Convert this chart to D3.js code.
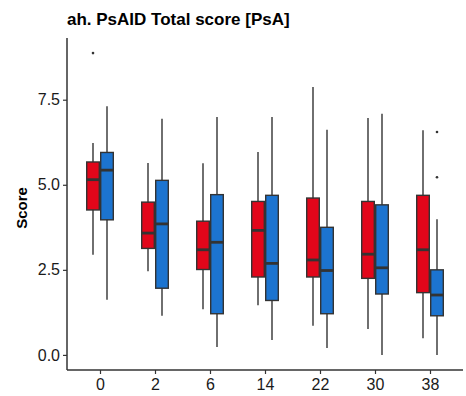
<!DOCTYPE html>
<html>
<head>
<meta charset="utf-8">
<script src="https://cdn.jsdelivr.net/npm/d3@7"></script>
<style>
  html, body { margin: 0; padding: 0; background: #ffffff; }
  svg { display: block; }
</style>
</head>
<body>
<div id="chart"></div>
<script>
// Weeks on the x axis
const weeks = ["0", "2", "6", "14", "22", "30", "38"];

// Five-number summaries (whisker low, Q1, median, Q3, whisker high) per week
const aLow  = [2.94, 2.46, 1.34, 1.46, 0.86, 0.76, 0.49];
const aQ1   = [4.26, 3.13, 2.51, 2.29, 2.29, 2.25, 1.83];
const aMed  = [5.15, 3.58, 3.09, 3.66, 2.79, 2.96, 3.09];
const aQ3   = [5.67, 4.49, 3.93, 4.51, 4.61, 4.51, 4.69];
const aHigh = [6.23, 5.64, 5.63, 5.96, 7.87, 6.96, 6.60];

const bLow  = [1.62, 1.15, 0.23, 0.44, 0.20, 0.00, 0.00];
const bQ1   = [3.97, 1.96, 1.21, 1.60, 1.21, 1.79, 1.15];
const bMed  = [5.43, 3.85, 3.31, 2.69, 2.48, 2.56, 1.76];
const bQ3   = [5.95, 5.13, 4.71, 4.69, 3.75, 4.41, 2.50];
const bHigh = [7.31, 6.94, 6.99, 6.99, 6.62, 7.09, 3.99];

// Outlying points: [week, value]
const aOutliers = [["0", 8.87]];
const bOutliers = [["38", 6.55], ["38", 5.22]];

const yTicks = [0, 2.5, 5, 7.5];

const width = 466, height = 396;
const margin = { top: 38, right: 3, bottom: 26, left: 67 };
const fillA = "#E2061A", fillB = "#1C74D0";
const ink = "#333333";

const svg = d3.select("#chart").append("svg")
  .attr("width", width).attr("height", height);

// Title
svg.append("text")
  .attr("x", margin.left).attr("y", 25)
  .attr("font-family", "Liberation Sans, Arial, sans-serif")
  .attr("font-weight", "bold").attr("font-size", 17)
  .attr("fill", "#000")
  .text("ah. PsAID Total score [PsA]");

// Scales
const allVals = aHigh.concat(bHigh, aLow, bLow, aOutliers.map(d => d[1]), bOutliers.map(d => d[1]));
const vMin = d3.min(allVals), vMax = d3.max(allVals);
const pad = (vMax - vMin) * 0.05;
const y = d3.scaleLinear()
  .domain([vMin - pad, vMax + pad])
  .range([height - margin.bottom, margin.top]);
const x = d3.scalePoint()
  .domain(weeks)
  .range([margin.left, width - margin.right])
  .padding(0.6);

const boxW = 12.6, gap = 0.7;

function buildSeries(low, q1, med, q3, high) {
  return weeks.map((w, i) => ({ week: w, low: low[i], q1: q1[i], med: med[i], q3: q3[i], high: high[i] }));
}
const seriesA = buildSeries(aLow, aQ1, aMed, aQ3, aHigh);
const seriesB = buildSeries(bLow, bQ1, bMed, bQ3, bHigh);

function drawBoxes(data, offset, fill, outliers) {
  const g = svg.append("g");
  const cx = d => x(d.week) + offset;
  g.selectAll("line.whisker").data(data).enter().append("line")
    .attr("x1", cx).attr("x2", cx)
    .attr("y1", d => y(d.low)).attr("y2", d => y(d.high))
    .attr("stroke", ink).attr("stroke-width", 1.4);
  g.selectAll("rect.box").data(data).enter().append("rect")
    .attr("x", d => cx(d) - boxW / 2)
    .attr("y", d => y(d.q3))
    .attr("width", boxW)
    .attr("height", d => y(d.q1) - y(d.q3))
    .attr("fill", fill)
    .attr("stroke", ink).attr("stroke-width", 1.4);
  g.selectAll("line.median").data(data).enter().append("line")
    .attr("x1", d => cx(d) - boxW / 2).attr("x2", d => cx(d) + boxW / 2)
    .attr("y1", d => y(d.med)).attr("y2", d => y(d.med))
    .attr("stroke", ink).attr("stroke-width", 2.8);
  g.selectAll("circle.out").data(outliers).enter().append("circle")
    .attr("cx", d => x(d[0]) + offset)
    .attr("cy", d => y(d[1]))
    .attr("r", 1.3)
    .attr("fill", ink);
}

drawBoxes(seriesA, -(gap + boxW / 2), fillA, aOutliers);
drawBoxes(seriesB, gap + boxW / 2, fillB, bOutliers);

// Axes
const yAxis = svg.append("g")
  .attr("transform", `translate(${margin.left},0)`)
  .call(d3.axisLeft(y).tickValues(yTicks).tickFormat(d3.format(".1f")).tickSizeOuter(0).tickSize(4).tickPadding(3));
const xAxis = svg.append("g")
  .attr("transform", `translate(0,${height - margin.bottom})`)
  .call(d3.axisBottom(x).tickSizeOuter(0).tickSize(4).tickPadding(5));

[yAxis, xAxis].forEach(ax => {
  ax.select(".domain").attr("stroke", ink).attr("stroke-width", 1.5);
  ax.selectAll(".tick line").attr("stroke", ink).attr("stroke-width", 1.2);
  ax.selectAll(".tick text")
    .attr("font-family", "Liberation Sans, Arial, sans-serif")
    .attr("font-size", 16).attr("fill", "#1a1a1a");
});
// extend axis lines to meet at the corner
yAxis.select(".domain").attr("d", `M0,${margin.top}V${height - margin.bottom}`);
xAxis.select(".domain").attr("d", `M${margin.left},0H${width - margin.right}`);

// Y axis title
svg.append("text")
  .attr("transform", "translate(27,208) rotate(-90)")
  .attr("text-anchor", "middle")
  .attr("font-family", "Liberation Sans, Arial, sans-serif")
  .attr("font-weight", "bold").attr("font-size", 15)
  .attr("fill", "#000")
  .text("Score");
</script>
</body>
</html>
